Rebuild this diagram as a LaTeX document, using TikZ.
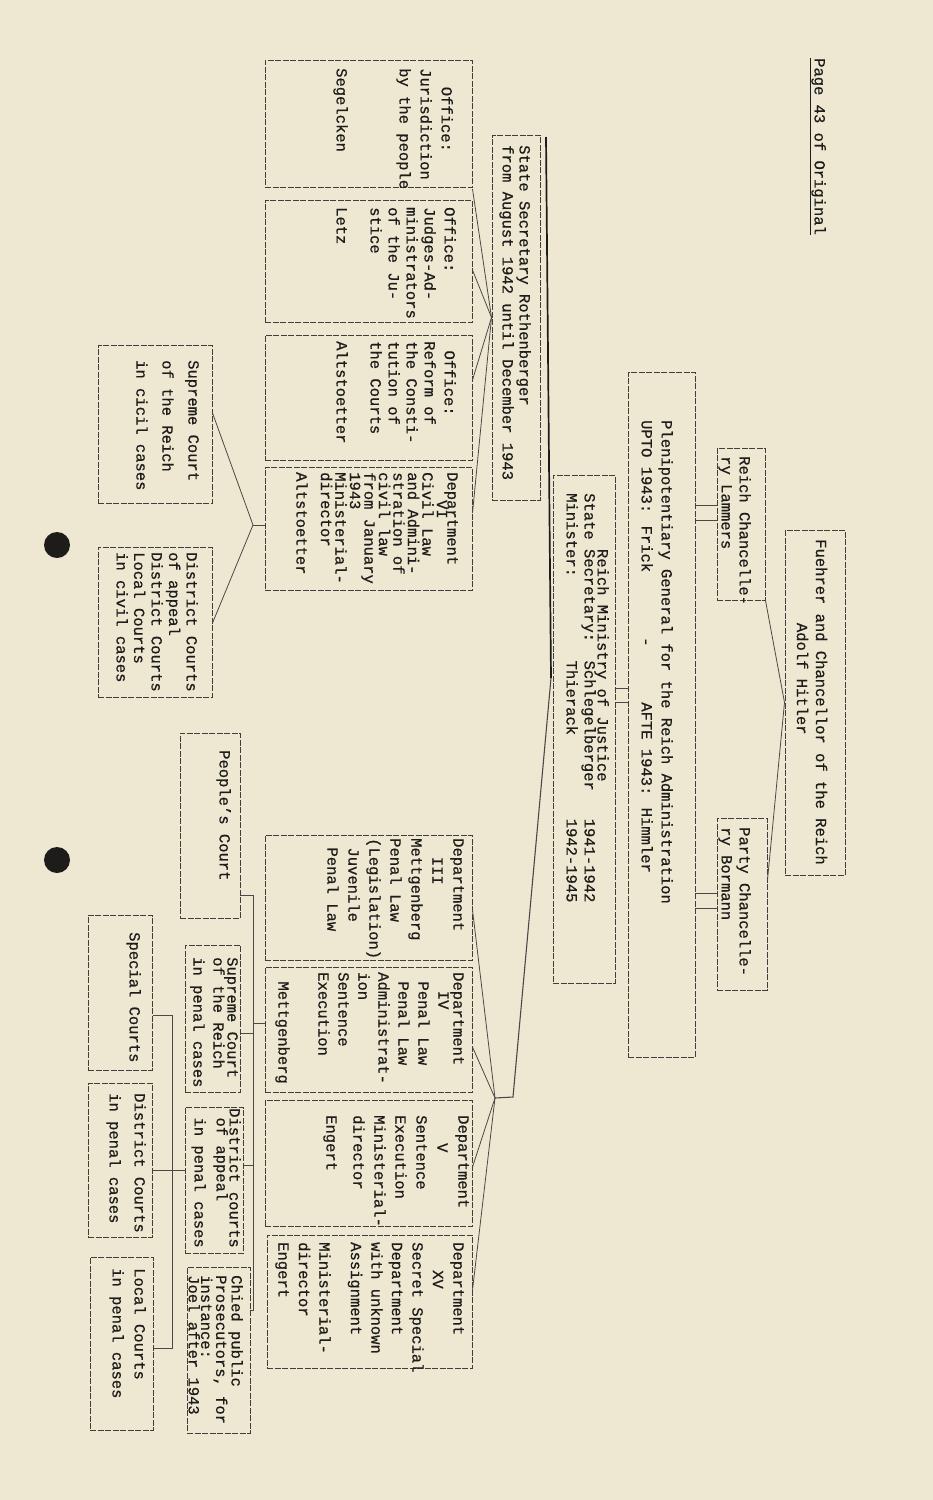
\documentclass[tikz,border=0pt]{standalone}
\usepackage{fontspec}
\setmainfont{Liberation Mono}[FakeBold=0.6]
\usepackage{xcolor}
\definecolor{paper}{RGB}{238,231,209}
\definecolor{ink}{RGB}{30,28,26}
\tikzset{
	box/.style={draw=ink!85, dash pattern=on 6pt off 1.5pt, line width=1pt, inner sep=0pt},
	txt/.style={rotate=-90, anchor=north west, inner sep=0pt, align=left, text=ink, font=\fontsize{15.5}{20}\selectfont},
	link/.style={draw=ink!80, line width=0.8pt},
	trunk/.style={draw=ink, line width=1.7pt}
}

\begin{document}
\begin{tikzpicture}[x=1pt, y=-1pt]
	\path[use as bounding box, fill=paper] (0,0) rectangle (933,1500);
	\fill[ink] (57,545) circle (13pt);
	\fill[ink] (57,860) circle (13pt);

	\node[box, minimum width=60pt, minimum height=345pt] (fuehrer) at (815,702.5) {};
	\node[box, minimum width=48pt, minimum height=152pt] (reichch) at (741,524) {};
	\node[box, minimum width=50pt, minimum height=172pt] (partych) at (742,904) {};
	\node[box, minimum width=67pt, minimum height=685pt] (pleni) at (661.5,714.5) {};
	\node[box, minimum width=62pt, minimum height=508pt] (ministry) at (584,729) {};
	\node[box, minimum width=48pt, minimum height=365pt] (statesec) at (516,317.5) {};
	\node[box, minimum width=207pt, minimum height=127pt] (office1) at (368.5,123.5) {};
	\node[box, minimum width=207pt, minimum height=122pt] (office2) at (368.5,261) {};
	\node[box, minimum width=207pt, minimum height=125pt] (office3) at (368.5,397.5) {};
	\node[box, minimum width=207pt, minimum height=123pt] (dept6) at (368.5,528.5) {};
	\node[box, minimum width=114pt, minimum height=158pt] (supciv) at (155,424) {};
	\node[box, minimum width=114pt, minimum height=150pt] (distciv) at (155,622) {};
	\node[box, minimum width=60pt, minimum height=185pt] (people) at (210,825.5) {};
	\node[box, minimum width=207pt, minimum height=125pt] (dept3) at (368.5,897.5) {};
	\node[box, minimum width=207pt, minimum height=125pt] (dept4) at (368.5,1029.5) {};
	\node[box, minimum width=207pt, minimum height=126pt] (dept5) at (368.5,1163) {};
	\node[box, minimum width=205pt, minimum height=133pt] (dept15) at (369.5,1301.5) {};
	\node[box, minimum width=55pt, minimum height=147pt] (suppen) at (212.5,1018.5) {};
	\node[box, minimum width=58pt, minimum height=146pt] (distapp) at (214,1180) {};
	\node[box, minimum width=63pt, minimum height=166pt] (prosec) at (218.5,1350) {};
	\node[box, minimum width=64pt, minimum height=155pt] (special) at (120,992.5) {};
	\node[box, minimum width=64pt, minimum height=154pt] (distpen) at (120,1160) {};
	\node[box, minimum width=63pt, minimum height=173pt] (localpen) at (121.5,1343.5) {};

	\node[txt] (pagehead) at (826,58) {\underline{Page 43 of Original}};
	\node[txt, anchor=center, align=center, font=\fontsize{15.5}{19}\selectfont] (fuehrertxt) at (812,702) {Fuehrer and Chancellor of the Reich\\Adolf Hitler\phantom{xxxxx}};
	\node[txt, font=\fontsize{15.5}{18}\selectfont] (reichtxt) at (751,456) {Reich Chancelle-\\ry Lammers};
	\node[txt, font=\fontsize{15.5}{18}\selectfont] (partytxt) at (751,827) {Party Chancelle-\\ry Bormann};
	\node[txt] (plenitxt) at (673,420) {Plenipotentiary General for the Reich Administration\\UPTO 1943: Frick~~~~~~~-~~~~~~AFTE 1943: Himmler};
	\node[txt, font=\fontsize{15.5}{18}\selectfont] (ministxt) at (609,493) {~~~~~~Reich Ministry of Justice\\[-5pt]State Secretary:~~Schlegelberger~~~1941-1942\\Minister:~~~~~~~~~Thierack~~~~~~~~~1942-1945};
	\node[txt, font=\fontsize{15.5}{17}\selectfont] (sstxt) at (531,145) {State Secretary Rothenberger\\from August 1942 until December 1943};

	\node[txt, font=\fontsize{15.5}{21}\selectfont] (off1txt) at (453,68) {~~Office:\\Jurisdiction\\by the people\\[42pt]Segelcken};
	\node[txt, font=\fontsize{15.5}{18}\selectfont] (off2txt) at (456,207) {Office:\\[2pt]Judges-Ad-\\ministrators\\of the Ju-\\stice\\[16pt]Letz};
	\node[txt, font=\fontsize{15.5}{18}\selectfont] (off3txt) at (456,341) {~Office:\\[2pt]Reform of\\the Consti-\\tution of\\the Courts\\[16pt]Altstoetter};
	\node[txt, font=\fontsize{15.5}{14.5}\selectfont] (dept6txt) at (458,472) {Department\\[-4pt]~~~VI\\Civil Law\\and Admini-\\stration of\\civil law\\from January\\1943\\Ministerial-\\director\\[10pt]Altstoetter};
	\node[txt, font=\fontsize{15.5}{21}\selectfont] (dept3txt) at (464,838) {Department\\~~III\\Mettgenberg\\Penal Law\\(Legislation)\\~Juvenile\\~Penal Law};
	\node[txt] (dept4txt) at (464,972) {Department\\[-5pt]~~IV\\~Penal Law\\~Penal Law\\Administrat-\\ion\\Sentence\\Execution\\[20pt]~Mettgenberg};
	\node[txt, font=\fontsize{15.5}{21}\selectfont] (dept5txt) at (469,1115) {Department\\~~~V\\Sentence\\Execution\\Ministerial-\\director\\[6pt]Engert};
	\node[txt, font=\fontsize{15.5}{20.5}\selectfont] (dept15txt) at (464,1242) {Department\\~~~XV\\Secret Special\\Department\\with unknown\\Assignment\\[11pt]Ministerial-\\director\\Engert};

	\node[txt, font=\fontsize{15.5}{26}\selectfont] (supcivtxt) at (199,360) {Supreme Court\\of the Reich\\in cicil cases};
	\node[txt, font=\fontsize{15.5}{17.5}\selectfont] (distcivtxt) at (198,552) {District Courts\\of appeal\\District Courts\\Local Courts\\in civil cases};
	\node[txt] (peopletxt) at (231,750) {People's Court};
	\node[txt] (suppentxt) at (238,957) {Supreme Court\\[-6pt]of the Reich\\in penal cases};
	\node[txt, font=\fontsize{15.5}{16}\selectfont] (distapptxt) at (241,1108) {District courts\\[-3pt]~of appeal\\[6pt]~in penal cases};
	\node[txt, font=\fontsize{15.5}{12.5}\selectfont] (prosectxt) at (243,1275) {Chied public\\Prosecutors, for\\instance:\\Joel after 1943};
	\node[txt] (specialtxt) at (141,932) {Special Courts};
	\node[txt, font=\fontsize{15.5}{25}\selectfont] (distpentxt) at (146,1093) {District Courts\\in penal cases};
	\node[txt, font=\fontsize{15.5}{22}\selectfont] (localpentxt) at (146,1268) {Local Courts\\in penal cases};

	\draw[link] (reichch.south east) -- (fuehrer.west) -- ([yshift=24pt]partych.east);
	\foreach \yy in {505,520} \draw[link] (pleni.east |- 0,\yy) -- (reichch.west |- 0,\yy);
	\foreach \yy in {893,908} \draw[link] (pleni.east |- 0,\yy) -- (partych.west |- 0,\yy);
	\foreach \yy in {688,702} \draw[link] (ministry.east |- 0,\yy) -- (pleni.west |- 0,\yy);

	\coordinate (trunktop) at (546,137);
	\coordinate (trunkbend) at (551,678);
	\coordinate (mjoin) at (513,1097);
	\coordinate (mhub) at (495,1098);
	\draw[trunk] (trunktop) -- (trunkbend);
	\draw[link, line width=1.1pt] (trunkbend) -- (mjoin) -- (mhub);
	\foreach \yy/\dep in {910/dept3, 1047/dept4, 1167/dept5, 1290/dept15} \draw[link] (mhub) -- (\dep.east |- 0,\yy);
	\foreach \yy/\off in {189/office1, 270/office2, 380/office3, 513/dept6} \draw[link] (statesec.west) -- (\off.east |- 0,\yy);

	\coordinate (chub) at (253,525);
	\draw[link] (dept6.west |- chub) -- (chub);
	\draw[link] (supciv.east |- 0,413) -- (chub) -- (distciv.east |- 0,623);

	\coordinate (ptop) at (253,895);
	\coordinate (pbot) at (253,1310);
	\draw[link] (people.east |- ptop) -- (ptop) -- (pbot) -- (prosec.east |- pbot);
	\draw[link] (suppen.east |- 0,1033) -- (ptop |- 0,1033);
	\draw[link] (ptop |- 0,1023) -- (dept4.west |- 0,1023);
	\draw[link] (distapp.east |- 0,1165) -- (ptop |- 0,1165);

	\coordinate (stop) at (172,1015);
	\coordinate (sbot) at (172,1348);
	\draw[link] (special.east |- stop) -- (stop) -- (sbot) -- (localpen.east |- sbot);
	\draw[link] (distpen.east |- 0,1170) -- (distapp.west |- 0,1170);
\end{tikzpicture}
\end{document}
